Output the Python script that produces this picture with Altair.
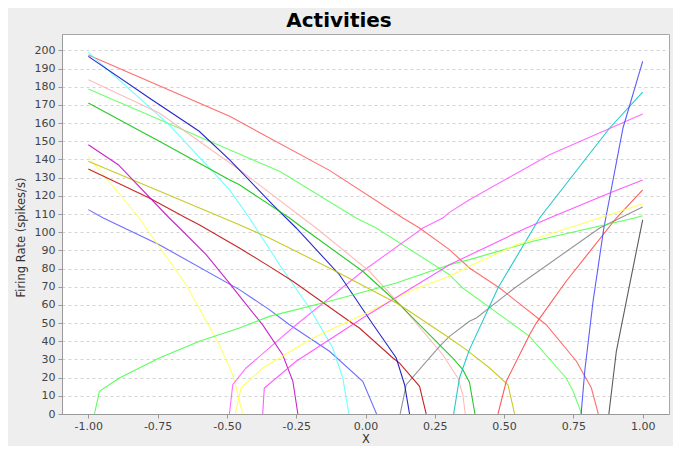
import altair as alt
import pandas as pd

# ---- data (x = input, y = firing rate) ----
red_dec_x = [-1.0, -0.49, -0.13, 0.135, 0.195, 0.303, 0.375, 0.484, 0.652, 0.761, 0.815, 0.84]
red_dec_y = [197.5, 163.7, 134.0, 107.8, 102.3, 90.4, 80.3, 69.3, 49.1, 29.0, 14.3, 0.0]

blue_dec_x = [-1.0, -0.946, -0.744, -0.455, -0.347, -0.274, -0.13, -0.01, 0.04]
blue_dec_y = [112.4, 107.8, 93.1, 68.4, 57.4, 49.1, 34.5, 18.0, 0.0]

green_dec_x = [-1.0, -0.491, -0.31, -0.034, 0.039, 0.303, 0.351, 0.592, 0.724, 0.749, 0.78]
green_dec_y = [178.7, 145.3, 133.5, 107.8, 102.3, 76.6, 69.3, 42.7, 19.8, 12.5, 0.0]

yellow_dec_x = [-1.0, -0.816, -0.792, -0.647, -0.527, -0.479, -0.443]
yellow_dec_y = [141.5, 107.8, 102.3, 71.1, 38.1, 21.6, 0.0]

magenta_up_x = [-0.491, -0.479, -0.431, -0.25, -0.01, 0.207, 0.279, 0.303, 0.375, 0.664, 1.0]
magenta_up_y = [0.0, 16.1, 25.3, 49.1, 78.5, 102.3, 107.8, 110.9, 117.8, 142.6, 165.0]

cyan_dec_x = [-1.0, -0.708, -0.491, -0.419, -0.31, -0.202, -0.118, -0.082, -0.06]
cyan_dec_y = [198.9, 159.0, 123.4, 107.8, 82.1, 58.3, 36.3, 19.8, 0.0]

pink_dec_x = [-1.0, -0.744, -0.455, -0.226, -0.178, 0.014, 0.147, 0.279, 0.333, 0.351, 0.36]
pink_dec_y = [183.8, 165.5, 134.3, 107.8, 102.3, 78.5, 56.5, 32.6, 19.8, 10.6, 0.0]

gray_inc_x = [0.125, 0.147, 0.267, 0.303, 0.375, 0.4, 0.538, 0.845, 1.0]
gray_inc_y = [0.0, 16.1, 37.2, 42.7, 51.0, 52.8, 69.3, 102.3, 113.8]

darkred_dec_x = [-1.0, -0.78, -0.647, -0.6, -0.455, -0.347, -0.262, -0.058, -0.022, 0.099, 0.123, 0.195, 0.219]
darkred_dec_y = [134.7, 118.8, 107.8, 104.1, 91.3, 81.2, 73.0, 51.0, 47.3, 30.8, 28.0, 15.2, 0.0]

darkblue_dec_x = [-1.0, -0.78, -0.6, -0.49, -0.335, -0.25, -0.094, 0.026, 0.111, 0.141, 0.159]
darkblue_dec_y = [196.7, 173.8, 155.5, 139.8, 115.1, 102.3, 76.6, 49.5, 30.8, 16.1, 0.0]

darkgreen_dec_x = [-1.0, -0.744, -0.491, -0.455, -0.274, -0.226, -0.01, 0.123, 0.315, 0.351, 0.375, 0.395]
darkgreen_dec_y = [171.0, 150.0, 128.8, 126.1, 107.8, 102.3, 78.5, 60.1, 30.8, 24.4, 17.5, 0.0]

olive_dec_x = [-1.0, -0.455, -0.347, -0.118, 0.123, 0.303, 0.363, 0.448, 0.514, 0.538]
olive_dec_y = [139.0, 104.1, 96.8, 79.4, 60.1, 41.8, 35.4, 25.3, 16.1, 0.0]

darkmag_dec_x = [-1.0, -0.892, -0.708, -0.671, -0.575, -0.491, -0.455, -0.371, -0.299, -0.262, -0.244]
darkmag_dec_y = [148.1, 137.1, 107.8, 102.3, 87.6, 72.0, 65.0, 49.0, 32.6, 18.0, 0.0]

teal_inc_x = [0.318, 0.339, 0.375, 0.478, 0.628, 0.881, 1.0]
teal_inc_y = [0.0, 19.8, 35.4, 69.3, 107.8, 157.3, 177.0]

darkgray_inc_x = [0.878, 0.905, 0.953, 1.0]
darkgray_inc_y = [0.0, 34.5, 71.1, 106.8]

red_inc_x = [0.478, 0.508, 0.592, 0.616, 0.724, 0.905, 1.0]
red_inc_y = [0.0, 18.0, 43.6, 50.0, 73.0, 107.8, 123.3]

blue_inc_x = [0.778, 0.791, 0.821, 0.86, 0.929, 1.0]
blue_inc_y = [0.0, 23.5, 62.0, 102.3, 157.3, 193.9]

green_inc_x = [-0.978, -0.96, -0.888, -0.744, -0.599, -0.455, -0.347, -0.13, 0.111, 0.303, 0.375, 0.604, 0.971, 1.0]
green_inc_y = [0.0, 12.5, 19.8, 30.8, 40.0, 47.3, 53.7, 62.0, 72.0, 82.1, 84.9, 95.0, 107.8, 109.0]

yellow_inc_x = [-0.47, -0.449, -0.371, -0.19, -0.01, 0.171, 0.303, 0.375, 0.544, 0.845, 1.0]
yellow_inc_y = [0.0, 14.3, 25.3, 41.8, 54.6, 68.4, 75.7, 81.2, 93.1, 107.8, 115.6]

magenta_low_x = [-0.371, -0.365, -0.25, -0.01, 0.303, 0.58, 0.664, 0.881, 1.0]
magenta_low_y = [0.0, 14.3, 29.0, 52.8, 82.1, 102.3, 107.8, 121.5, 128.7]

series = [
    ("s00", "#FF5555", red_dec_x, red_dec_y),
    ("s01", "#5555FF", blue_dec_x, blue_dec_y),
    ("s02", "#55FF55", green_dec_x, green_dec_y),
    ("s03", "#FFFF55", yellow_dec_x, yellow_dec_y),
    ("s04", "#FF55FF", magenta_up_x, magenta_up_y),
    ("s05", "#55FFFF", cyan_dec_x, cyan_dec_y),
    ("s06", "#FFAFAF", pink_dec_x, pink_dec_y),
    ("s07", "#808080", gray_inc_x, gray_inc_y),
    ("s08", "#C00000", darkred_dec_x, darkred_dec_y),
    ("s09", "#0000C0", darkblue_dec_x, darkblue_dec_y),
    ("s10", "#00C000", darkgreen_dec_x, darkgreen_dec_y),
    ("s11", "#C0C000", olive_dec_x, olive_dec_y),
    ("s12", "#C000C0", darkmag_dec_x, darkmag_dec_y),
    ("s13", "#00C0C0", teal_inc_x, teal_inc_y),
    ("s14", "#404040", darkgray_inc_x, darkgray_inc_y),
    ("s15", "#FF4040", red_inc_x, red_inc_y),
    ("s16", "#4040FF", blue_inc_x, blue_inc_y),
    ("s17", "#40FF40", green_inc_x, green_inc_y),
    ("s18", "#FFFF40", yellow_inc_x, yellow_inc_y),
    ("s19", "#FF40FF", magenta_low_x, magenta_low_y),
]

x_ticks = [-1.0, -0.75, -0.5, -0.25, 0.0, 0.25, 0.5, 0.75, 1.0]
y_ticks = list(range(0, 201, 10))
title_text = ["Activities"]

rows = []
for name, col, xs, ys in series:
    for xv, yv in zip(xs, ys):
        rows.append({"series": name, "x": xv, "y": yv})
df = pd.DataFrame(rows)

names = [s[0] for s in series]
colors = [s[1] for s in series]

FONT = "DejaVu Sans"

lines = alt.Chart(df).mark_line(strokeWidth=1.1, strokeOpacity=0.85, clip=True).encode(
    x=alt.X("x:Q",
            scale=alt.Scale(domain=[-1.095, 1.095], nice=False, zero=False),
            axis=alt.Axis(title="X", values=x_ticks, grid=False,
                          labelExpr="replace(format(datum.value, '.2f'), '\u2212', '-')",
                          tickSize=4, labelPadding=2, labelFontSize=11,
                          titleFontSize=11.5, titleY=28, titleBaseline="alphabetic")),
    y=alt.Y("y:Q",
            scale=alt.Scale(domain=[0, 209], nice=False, zero=False),
            axis=alt.Axis(title="Firing Rate (spikes/s)", values=y_ticks, grid=True,
                          gridColor="#d4d4d4", gridDash=[3, 3], gridWidth=1,
                          tickSize=4, labelPadding=3, labelFontSize=11,
                          titleFontSize=11.5, titleAngle=270, titleX=-38, titleY=203,
                          titleAlign="center", titleBaseline="alphabetic")),
    color=alt.Color("series:N", scale=alt.Scale(domain=names, range=colors), legend=None),
    order=alt.Order("x:Q"),
)

title = alt.Chart(pd.DataFrame({"t": title_text})).mark_text(
    font=FONT, fontSize=20, fontWeight="bold", color="#000000",
    align="center", baseline="alphabetic",
).encode(
    text="t:N",
    x=alt.value(277),
    y=alt.value(-7.5),
)

chart = alt.layer(lines, title).properties(
    width=607,
    height=380,
    autosize=alt.AutoSizeParams(type="none"),
    padding={"left": 54, "top": 26, "right": 4, "bottom": 32},
).configure(
    background="#eeeeee",
).configure_view(
    stroke="#a8a8a8", fill="#ffffff",
).configure_axis(
    labelFont=FONT, titleFont=FONT, titleFontWeight="normal",
    labelColor="#444444", titleColor="#333333",
    domainColor="#999999", tickColor="#999999",
)

chart.save("out.html", embed_options={"renderer": "svg", "actions": False})
